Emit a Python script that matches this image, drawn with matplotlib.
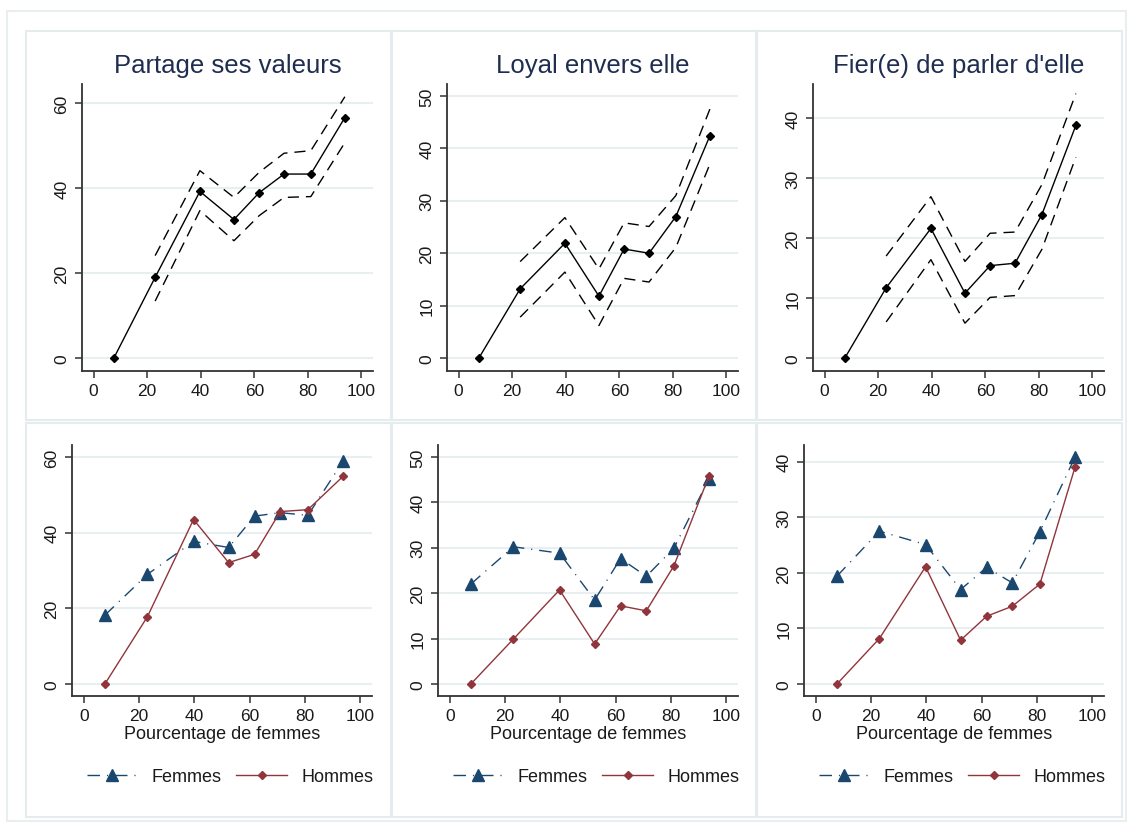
import matplotlib.pyplot as plt
from matplotlib.patches import Rectangle
from matplotlib.lines import Line2D

plt.rcParams['font.family'] = ['Liberation Sans', 'DejaVu Sans']

# data
pct_femmes = [7.6, 23.0, 39.7, 52.4, 61.8, 71.1, 81.1, 93.8]
titles = ["Partage ses valeurs", "Loyal envers elle", "Fier(e) de parler d'elle"]

# top row: estimate with confidence band (no band at the first point)
est_valeurs = [0, 19.0, 39.2, 32.6, 38.9, 43.3, 43.3, 56.6]
hi_valeurs = [None, 24.1, 44.1, 37.8, 43.7, 48.2, 48.8, 61.5]
lo_valeurs = [None, 13.4, 34.7, 27.6, 33.5, 37.8, 38.0, 50.7]

est_loyal = [0, 13.2, 21.9, 11.8, 20.8, 20.0, 27.0, 42.4]
hi_loyal = [None, 18.4, 26.8, 17.0, 25.8, 25.1, 31.0, 47.5]
lo_loyal = [None, 7.8, 16.4, 6.2, 15.2, 14.5, 21.1, 37.0]

est_fier = [0, 11.7, 21.6, 10.8, 15.4, 15.8, 23.9, 38.8]
hi_fier = [None, 17.0, 26.9, 16.1, 20.8, 21.0, 28.9, 44.1]
lo_fier = [None, 6.0, 16.4, 5.8, 10.1, 10.4, 18.1, 33.5]

# bottom row: women vs men
femmes_valeurs = [18.2, 29.0, 37.7, 36.1, 44.4, 45.3, 44.6, 58.9]
hommes_valeurs = [0, 17.8, 43.5, 32.1, 34.3, 45.6, 46.1, 54.9]
femmes_loyal = [22.0, 30.2, 28.8, 18.5, 27.6, 23.7, 29.9, 45.1]
hommes_loyal = [0, 9.9, 20.7, 8.8, 17.2, 16.1, 26.0, 45.8]
femmes_fier = [19.4, 27.5, 25.1, 17.0, 21.0, 18.2, 27.4, 40.8]
hommes_fier = [0, 8.2, 21.1, 7.9, 12.2, 14.0, 18.0, 39.0]

top_data = [(est_valeurs, hi_valeurs, lo_valeurs),
            (est_loyal, hi_loyal, lo_loyal),
            (est_fier, hi_fier, lo_fier)]
bot_data = [(femmes_valeurs, hommes_valeurs),
            (femmes_loyal, hommes_loyal),
            (femmes_fier, hommes_fier)]
yticks = [[0, 20, 40, 60], [0, 10, 20, 30, 40, 50], [0, 10, 20, 30, 40]]
top_ylim = [(-3.06, 64.5), (-2.48, 52.3), (-2.18, 45.7)]
bot_ylim = [(-3.17, 63.2), (-2.64, 52.6), (-2.14, 43.0)]

NAVY = '#1a476f'
MAROON = '#90353b'
GRID = '#e8eff1'
TXT = '#1a1a1a'
W, H = 1130, 828
CI_DASH = (8, 5)
FEM_DASH = (9, 5, 0.8, 5)

fig = plt.figure(figsize=(W / 100, H / 100), dpi=100)

# panel borders
def frame(x0, y0, x1, y1, col='#e4ecee'):
    fig.add_artist(Rectangle((x0 / W, 1 - y1 / H), (x1 - x0) / W, (y1 - y0) / H,
                             transform=fig.transFigure, fill=False,
                             edgecolor=col, lw=1.5))

frame(7, 12, 1126, 822, '#e9eff1')
for x0, x1 in [(26, 391), (392, 756), (757, 1122)]:
    frame(x0, 32, x1, 421)
    frame(x0, 424, x1, 818)


def style(ax, ticks, ylim):
    ax.set_xlim(-4.3, 104.3)
    ax.set_ylim(*ylim)
    ax.set_xticks([0, 20, 40, 60, 80, 100])
    ax.set_yticks(ticks)
    ax.grid(axis='y', color=GRID, lw=1.5)
    ax.set_axisbelow(True)
    for s in ['top', 'right']:
        ax.spines[s].set_visible(False)
    for s in ['left', 'bottom']:
        ax.spines[s].set_color('#333333')
        ax.spines[s].set_linewidth(1.3)
    ax.tick_params(axis='both', length=5, width=1.1, color='#333333',
                   labelsize=12.5, labelcolor=TXT, pad=4)
    for lab in ax.get_yticklabels():
        lab.set_rotation(90)
        lab.set_va('center')


top_left = [82, 447, 813]
bot_left = [72, 438, 804]

for i in range(3):
    # top panels
    ax = fig.add_axes([top_left[i] / W, 1 - 372 / H, 291 / W, 287 / H])
    est, hi, lo = top_data[i]
    ax.plot(pct_femmes[1:], hi[1:], color='black', lw=1.0, dashes=CI_DASH)
    ax.plot(pct_femmes[1:], lo[1:], color='black', lw=1.0, dashes=CI_DASH)
    ax.plot(pct_femmes, est, color='black', lw=1.0, marker='D', ms=4.5)
    style(ax, yticks[i], top_ylim[i])
    ax.set_title(titles[i], fontsize=18.5, color='#1e2d50', pad=9)

    # bottom panels
    ax = fig.add_axes([bot_left[i] / W, 1 - 697 / H, 300 / W, 251 / H])
    fem, hom = bot_data[i]
    ax.plot(pct_femmes, fem, color=NAVY, lw=1.0, dashes=FEM_DASH,
            marker='^', ms=8.5)
    ax.plot(pct_femmes, hom, color=MAROON, lw=1.0, marker='D', ms=4)
    style(ax, yticks[i], bot_ylim[i])
    ax.set_xlabel('Pourcentage de femmes', fontsize=13, color=TXT, labelpad=1)
    handles = [Line2D([], [], color=NAVY, lw=1.0, dashes=FEM_DASH,
                      marker='^', ms=8.5),
               Line2D([], [], color=MAROON, lw=1.0, marker='D', ms=4)]
    ax.legend(handles, ['Femmes', 'Hommes'], loc='center',
              bbox_to_anchor=(0.527, -0.32), ncol=2, frameon=False,
              fontsize=13, handlelength=2.8, handletextpad=0.8,
              columnspacing=0.8, labelcolor=TXT)

fig.savefig('out.png', dpi=100, facecolor='white')
